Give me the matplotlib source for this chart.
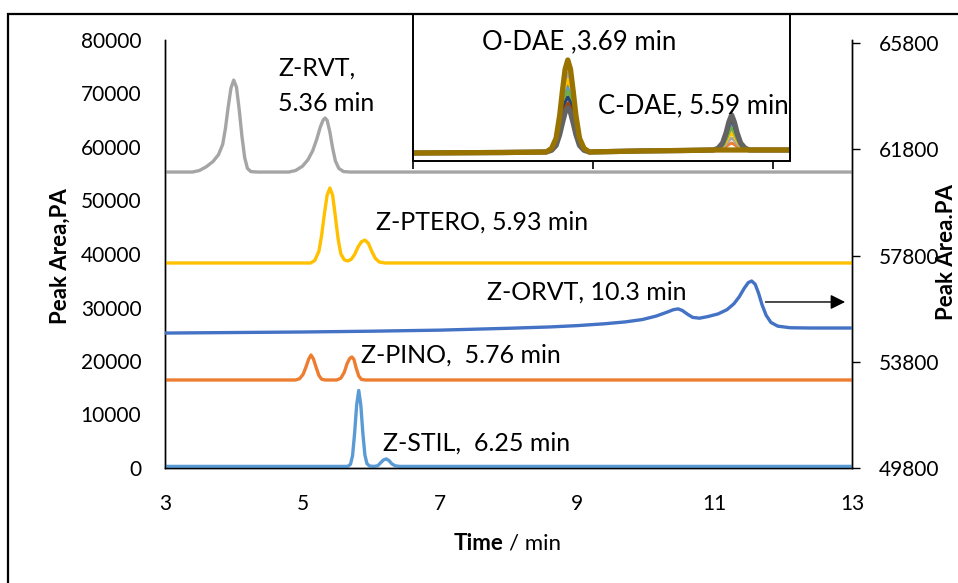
import matplotlib
matplotlib.use("Agg")
import matplotlib.pyplot as plt
from matplotlib.patches import Rectangle, FancyArrowPatch

plt.rcParams['font.family'] = ['Lato', 'DejaVu Sans']

# ---------------- data ----------------
# Z-RVT (grey, left axis)
rvt_t = [3.0, 3.40, 3.50, 3.60, 3.70, 3.78, 3.84, 3.88, 3.92, 3.96, 4.00, 4.04, 4.08, 4.12,
         4.16, 4.20, 4.25, 4.35, 4.80, 4.90, 5.00, 5.08, 5.15, 5.21, 5.26, 5.30, 5.33, 5.36,
         5.40, 5.44, 5.48, 5.53, 5.60, 5.70, 13.0]
rvt_v = [55320, 55320, 55600, 56300, 57300, 58600, 60500, 63500, 67500, 71000, 72500, 71200,
         67000, 62000, 58000, 56000, 55400, 55320, 55320, 55600, 56400, 57600, 59300, 61500,
         63700, 65000, 65420, 65000, 62800, 59800, 57400, 56000, 55400, 55320, 55320]

# Z-PTERO (yellow, left axis)
ptero_t = [3.0, 5.12, 5.18, 5.24, 5.28, 5.32, 5.36, 5.40, 5.44, 5.48, 5.52, 5.56, 5.61, 5.66,
           5.71, 5.76, 5.81, 5.86, 5.91, 5.96, 6.01, 6.06, 6.12, 6.20, 13.0]
ptero_v = [38320, 38320, 38800, 40500, 43500, 47500, 51000, 52330, 51000, 47000, 42800, 40000,
           38900, 38700, 39000, 39900, 41300, 42300, 42600, 42000, 40500, 39200, 38500, 38320,
           38320]

# Z-ORVT (blue, right axis)
orvt_t = [3.0, 4.0, 5.0, 6.0, 7.0, 8.0, 8.6, 9.0, 9.4, 9.7, 9.95, 10.15, 10.30, 10.40, 10.47,
          10.53, 10.60, 10.68, 10.78, 10.90, 11.05, 11.18, 11.28, 11.36, 11.43, 11.49, 11.54,
          11.59, 11.64, 11.69, 11.75, 11.82, 11.92, 12.10, 12.40, 13.0]
orvt_v = [54880, 54900, 54920, 54950, 54990, 55060, 55110, 55160, 55230, 55300, 55390, 55520,
          55660, 55760, 55790, 55730, 55600, 55470, 55440, 55500, 55600, 55760, 55980, 56250,
          56560, 56780, 56840, 56720, 56380, 55950, 55550, 55280, 55140, 55080, 55070, 55070]

# Z-PINO (orange, left axis)
pino_t = [3.0, 4.90, 4.96, 5.01, 5.05, 5.09, 5.125, 5.16, 5.20, 5.24, 5.28, 5.33, 5.50, 5.56,
          5.61, 5.65, 5.69, 5.72, 5.75, 5.78, 5.82, 5.86, 5.92, 13.0]
pino_v = [16450, 16450, 16700, 17500, 18800, 20300, 21120, 20400, 18800, 17300, 16600, 16450,
          16450, 16800, 17900, 19500, 20500, 20750, 20300, 18800, 17200, 16550, 16450, 16450]

# Z-STIL (light blue, left axis)
stil_t = [3.0, 5.66, 5.70, 5.73, 5.76, 5.79, 5.82, 5.85, 5.88, 5.91, 5.94, 5.98, 6.05, 6.10,
          6.14, 6.18, 6.22, 6.26, 6.30, 6.35, 6.42, 13.0]
stil_v = [300, 300, 700, 2300, 6500, 11800, 14500, 11800, 6500, 2400, 800, 350, 300, 450,
          1000, 1500, 1700, 1400, 800, 400, 300, 300]

# Inset: O-DAE / C-DAE photo-conversion runs (arbitrary units).
# Shared time axis, baseline and peak profiles (fraction of apex height).
inset_t = [2.0, 3.0, 3.48, 3.54, 3.59, 3.63, 3.66, 3.69, 3.72, 3.75, 3.78, 3.81, 3.85, 3.90,
           3.96, 4.5, 5.0, 5.34, 5.39, 5.44, 5.48, 5.51, 5.54, 5.57, 5.60, 5.64, 5.69, 5.74, 6.19]
inset_base = [8, 8.5, 9, 9, 9, 9, 9, 9, 9, 9, 9, 9, 9, 9, 9, 10, 10.5, 11, 11, 11, 11, 11, 11,
              11, 11, 11, 11, 11, 11]
o_profile = [0, 0, 0, 0.04, 0.15, 0.40, 0.66, 0.90, 1.0, 0.90, 0.66, 0.40, 0.15, 0.04, 0, 0, 0,
             0, 0, 0, 0, 0, 0, 0, 0, 0, 0, 0, 0]
c_profile = [0, 0, 0, 0, 0, 0, 0, 0, 0, 0, 0, 0, 0, 0, 0, 0, 0, 0, 0.05, 0.2, 0.5, 0.8, 1.0,
             0.8, 0.5, 0.2, 0.05, 0, 0]
inset_colors = ['#4472C4', '#ED7D31', '#A5A5A5', '#FFC000', '#5B9BD5', '#70AD47', '#264478',
                '#9E480E', '#636363', '#997300']
o_dae_height = [67, 87, 79, 72, 64, 61, 55, 49, 44, 92]
c_dae_height = [27, 7, 12, 17, 25, 22, 30, 33, 35, 0]

x_ticks = [3, 5, 7, 9, 11, 13]
left_ticks = [0, 10000, 20000, 30000, 40000, 50000, 60000, 70000, 80000]
right_ticks = [49800, 53800, 57800, 61800, 65800]

# arrow showing ORVT belongs to the secondary axis (time, right-axis value)
arrow_from = (11.70, 56050)
arrow_to = (12.94, 56050)

# ---------------- figure ----------------
W, H = 958, 583
fig = plt.figure(figsize=(W / 100, H / 100), dpi=100)
fig.patch.set_facecolor('white')

L, R, B, T = 165, 852, 468, 40
ax = fig.add_axes([L / W, 1 - B / H, (R - L) / W, (B - T) / H])
ax2 = ax.twinx()
ax.set_xlim(3, 13)
ax.set_ylim(0, 80000)
ax2.set_ylim(49800, 65913)

lw = 2.4
kw = dict(lw=lw, solid_joinstyle='round', solid_capstyle='round', zorder=3)
ax.plot(rvt_t, rvt_v, color='#A5A5A5', **kw)
ax.plot(ptero_t, ptero_v, color='#FFC000', **kw)
ax.plot(pino_t, pino_v, color='#ED7D31', **kw)
ax.plot(stil_t, stil_v, color='#5B9BD5', **kw)
ax2.plot(orvt_t, orvt_v, color='#4472C4', **kw)

arr = FancyArrowPatch(arrow_from, arrow_to, arrowstyle='-|>', mutation_scale=22,
                      color='black', lw=1.0, transform=ax2.transData, zorder=5)
ax2.add_patch(arr)

for a in (ax, ax2):
    a.spines['top'].set_visible(False)
    for s in ('left', 'right', 'bottom'):
        a.spines[s].set_color('black')
        a.spines[s].set_linewidth(1.0)

ax.set_xticks(x_ticks)
ax.set_xticklabels([str(v) for v in x_ticks])
ax.set_yticks(left_ticks)
ax.set_yticklabels([str(v) for v in left_ticks])
ax.tick_params(axis='x', length=0, pad=19, labelsize=15)
ax.tick_params(axis='y', length=0, pad=17, labelsize=15)
ax2.set_yticks(right_ticks)
ax2.set_yticklabels([str(v) for v in right_ticks])
ax2.tick_params(axis='y', direction='out', length=6, width=1, pad=13, labelsize=15)

# axis labels
fig.text(60 / W, 1 - 256 / H, 'Peak Area,PA', rotation=90, fontsize=16, fontweight='bold',
         ha='center', va='center')
fig.text(957 / W, 1 - 252 / H, 'Peak Area.PA', rotation=90, fontsize=16, fontweight='bold',
         ha='right', va='center')
fig.text(503 / W, 1 - 543 / H, 'Time', fontsize=16, fontweight='bold', ha='right', va='center')
fig.text(509 / W, 1 - 543 / H, '/ min', fontsize=16, ha='left', va='center')

# peak annotations
fs = 18
ax.text(4.645, 74760, 'Z-RVT,', fontsize=fs, ha='left', va='center', zorder=6)
ax.text(4.645, 68220, '5.36 min', fontsize=fs, ha='left', va='center', zorder=6)
ax.text(6.07, 45980, 'Z-PTERO, 5.93 min', fontsize=fs, ha='left', va='center', zorder=6)
ax.text(7.69, 32900, 'Z-ORVT, 10.3 min', fontsize=fs, ha='left', va='center', zorder=6)
ax.text(5.85, 21120, 'Z-PINO,  5.76 min', fontsize=fs, ha='left', va='center', zorder=6)
ax.text(6.17, 4670, 'Z-STIL,  6.25 min', fontsize=fs, ha='left', va='center', zorder=6)

# ---------------- inset ----------------
IL, IR, IB, IT = 413, 790, 161, 14
axin = fig.add_axes([IL / W, 1 - IB / H, (IR - IL) / W, (IB - IT) / H], zorder=10)
axin.set_facecolor('white')
axin.set_xlim(2, 2 + (IR - IL) / 90)
axin.set_ylim(0, 147)
for c, oh, ch in zip(inset_colors, o_dae_height, c_dae_height):
    vals = [b + po * oh + pc * ch for b, po, pc in zip(inset_base, o_profile, c_profile)]
    w = 3.8 if c in ('#997300', '#636363') else 2.2
    axin.plot(inset_t, vals, color=c, lw=w, solid_joinstyle='round')
axin.set_xticks([2, 4, 6])
axin.set_xticklabels([])
axin.set_yticks([])
axin.tick_params(axis='x', direction='out', length=6, width=1.2)
for s in axin.spines.values():
    s.set_color('black')
    s.set_linewidth(1.4)
axin.text(2.77, 119, 'O-DAE ,3.69 min', fontsize=18.5, ha='left', va='center')
axin.text(4.06, 55, 'C-DAE, 5.59 min', fontsize=18.5, ha='left', va='center')

# outer frame
fig.add_artist(Rectangle((8 / W, -0.2), 1.5, 1 - 14 / H + 0.2, transform=fig.transFigure,
                         fill=False, lw=1.6, edgecolor='black', zorder=20))

fig.savefig('out.png', dpi=100)
